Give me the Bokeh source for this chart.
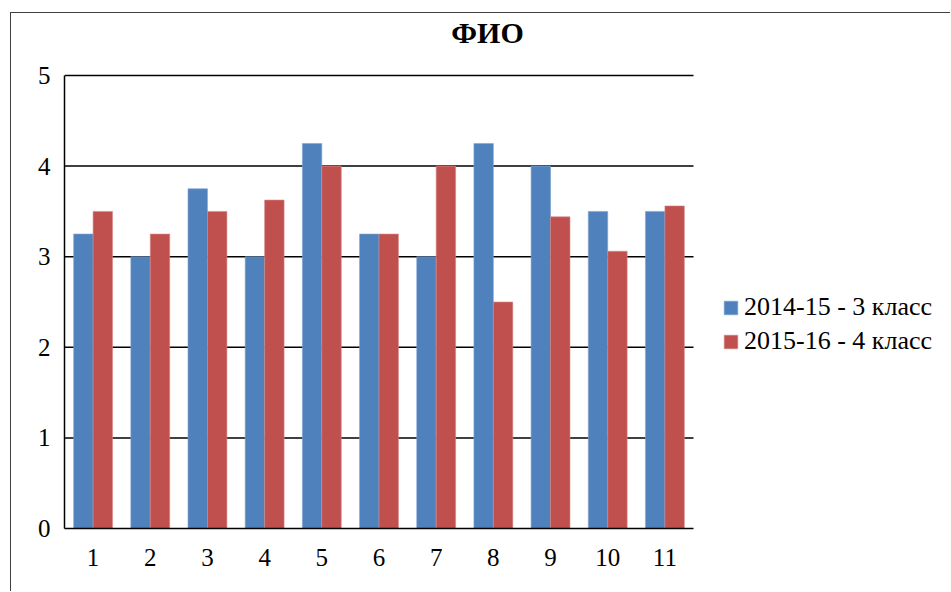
from bokeh.plotting import figure
from bokeh.models import Range1d, FixedTicker, Legend, LegendItem, Label, ColumnDataSource
from bokeh.transform import dodge
from bokeh.embed import file_html
from bokeh.resources import INLINE

categories = ["1", "2", "3", "4", "5", "6", "7", "8", "9", "10", "11"]
series_2014 = [3.25, 3.0, 3.75, 3.0, 4.25, 3.25, 3.0, 4.25, 4.0, 3.5, 3.5]
series_2015 = [3.5, 3.25, 3.5, 3.625, 4.0, 3.25, 4.0, 2.5, 3.44, 3.06, 3.56]
series_names = ["2014-15 - 3 класс", "2015-16 - 4 класс"]
title_text = "ФИО"
y_ticks = [0, 1, 2, 3, 4, 5]

FONT = "'Liberation Serif', 'Times New Roman', serif"

n = len(categories)
x_pos = list(range(1, n + 1))
y_max = y_ticks[-1]

# frame covers the whole chart box; the plot area is bounded via axis bounds
FRAME_W, FRAME_H = 887, 515
PLOT_W, PLOT_H = 629, 453
x_end = 0.5 + n * FRAME_W / PLOT_W
y_end = y_max * FRAME_H / PLOT_H

p = figure(width=940, height=579, output_backend="svg", toolbar_location=None,
           x_range=Range1d(0.5, x_end), y_range=Range1d(0, y_end),
           min_border_left=53, min_border_right=0, min_border_top=0, min_border_bottom=64)
p.margin = (12, 0, 0, 10)
p.styles = {"border-top": "1px solid #404040", "border-left": "1px solid #404040"}
p.outline_line_color = None
p.background_fill_color = "white"
p.border_fill_color = "white"
p.xgrid.grid_line_color = None
p.ygrid.grid_line_color = None

# horizontal gridlines across the plot area
grid_y = [t for t in y_ticks if t > 0]
p.segment(x0=[0.5] * len(grid_y), x1=[n + 0.5] * len(grid_y), y0=grid_y, y1=grid_y,
          line_color="black", line_width=1.5)

src = ColumnDataSource(dict(x=x_pos, cat=categories, a=series_2014, b=series_2015))
r1 = p.vbar(x=dodge("x", -0.17), top="a", width=0.34, source=src,
            fill_color="#4F81BD", line_color="#7FA3CF", line_width=0.6)
r2 = p.vbar(x=dodge("x", 0.17), top="b", width=0.34, source=src,
            fill_color="#C0504D", line_color="#D48A88", line_width=0.6)

p.xaxis.ticker = FixedTicker(ticks=x_pos)
p.xaxis.major_label_overrides = {i: c for i, c in zip(x_pos, categories)}
p.xaxis.bounds = (0.5, n + 0.5)
p.yaxis.ticker = FixedTicker(ticks=y_ticks)
p.yaxis.bounds = (0, y_max)

for ax in (p.xaxis[0], p.yaxis[0]):
    ax.axis_line_color = "black"
    ax.axis_line_width = 1.5
    ax.major_tick_line_color = None
    ax.minor_tick_line_color = None
    ax.major_tick_out = 0
    ax.major_tick_in = 0
    ax.major_label_text_font = FONT
    ax.major_label_text_font_size = "25px"
    ax.major_label_text_color = "black"
p.yaxis.major_label_standoff = 14
p.xaxis.major_label_standoff = 20

title = Label(x=0.5 + (487 - 64) / (PLOT_W / n), y=y_max + 43 / (PLOT_H / y_max),
              text=title_text, text_align="center", text_baseline="middle",
              text_font=FONT, text_font_size="30px", text_font_style="bold", text_color="black")
p.add_layout(title)

legend = Legend(items=[LegendItem(label=series_names[0], renderers=[r1]),
                       LegendItem(label=series_names[1], renderers=[r2])],
                location=(658, 172), orientation="vertical",
                glyph_width=17, glyph_height=17, label_height=17, spacing=4,
                label_standoff=5, padding=0, margin=0,
                border_line_color=None, background_fill_alpha=0,
                label_text_font=FONT, label_text_font_size="26px", label_text_color="black")
p.add_layout(legend, "center")

open("out.html", "w").write(file_html(p, INLINE))
